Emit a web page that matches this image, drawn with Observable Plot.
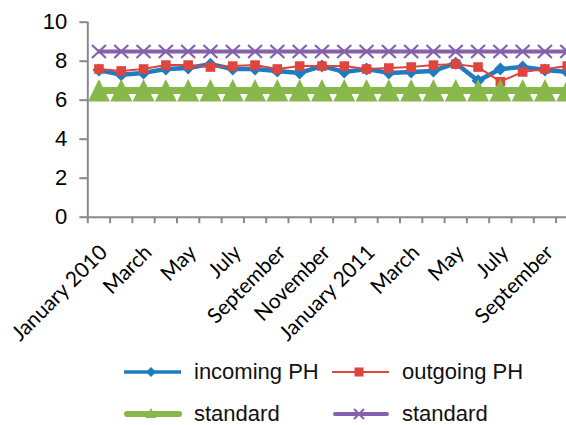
<!DOCTYPE html>
<html><head><meta charset="utf-8">
<script src="https://cdn.jsdelivr.net/npm/d3@7"></script>
<script src="https://cdn.jsdelivr.net/npm/@observablehq/plot@0.6"></script>
<style>
body{margin:0;background:#fff;}
#chart{width:566px;height:425px;position:relative;overflow:hidden;background:#fff;}
.legend{position:relative;height:80px;width:566px;font-family:"Liberation Sans",Arial,sans-serif;font-size:22px;color:#111;}
.legend svg{position:absolute;}
.legend span{position:absolute;line-height:24px;height:24px;white-space:nowrap;}
</style></head><body><div id="chart"></div>
<script>
// ---- data ----
const months = ["2010-01","2010-02","2010-03","2010-04","2010-05","2010-06","2010-07","2010-08","2010-09","2010-10","2010-11","2010-12",
                "2011-01","2011-02","2011-03","2011-04","2011-05","2011-06","2011-07","2011-08","2011-09","2011-10"];
const xTickLabels = ["January 2010","March","May","July","September","November","January 2011","March","May","July","September"];
const incomingPH = [7.55,7.3,7.4,7.6,7.65,7.85,7.6,7.6,7.5,7.4,7.75,7.45,7.6,7.4,7.45,7.5,7.9,7.0,7.6,7.7,7.55,7.45];
const outgoingPH = [7.6,7.5,7.6,7.8,7.8,7.7,7.75,7.8,7.6,7.75,7.75,7.75,7.6,7.65,7.7,7.8,7.85,7.7,6.95,7.45,7.6,7.75];
const standardLow = [6.5,6.5,6.5,6.5,6.5,6.5,6.5,6.5,6.5,6.5,6.5,6.5,6.5,6.5,6.5,6.5,6.5,6.5,6.5,6.5,6.5,6.5];
const standardHigh = [8.5,8.5,8.5,8.5,8.5,8.5,8.5,8.5,8.5,8.5,8.5,8.5,8.5,8.5,8.5,8.5,8.5,8.5,8.5,8.5,8.5,8.5];
const yTicks = [0,2,4,6,8,10];
const seriesNames = ["incoming PH","outgoing PH","standard","standard"];

// ---- style ----
const blue = "#1f7cc0", red = "#e0443e", green = "#88b84b", purple = "#8561ab", axisColor = "#888888";
const step = 22.3, x0 = 87.3;

const rows = months.map((m, i) => ({month: m, incoming: incomingPH[i], outgoing: outgoingPH[i], low: standardLow[i], high: standardHigh[i]}));
const labelRows = months.filter((m, i) => i % 2 === 0).map((m, i) => ({month: m, label: xTickLabels[i]}));

// fixed-size marker shapes (pixels)
const diamond = {draw(c){const r = 6.5; c.moveTo(0,-r); c.lineTo(r,0); c.lineTo(0,r); c.lineTo(-r,0); c.closePath();}};
const square = {draw(c){const r = 4.8; c.rect(-r,-r,2*r,2*r);}};
const triangle = {draw(c){c.moveTo(0,-11.5); c.lineTo(11,11); c.lineTo(-11,11); c.closePath();}};
const cross = {draw(c){const w = 7, h = 6.5; c.moveTo(-w,-h); c.lineTo(w,h); c.moveTo(w,-h); c.lineTo(-w,h);}};
const vtick = {draw(c){c.moveTo(0,0); c.lineTo(0,6);}};

const plot = Plot.plot({
  width: 566, height: 345,
  marginLeft: x0, marginRight: 0, marginTop: 21.7, marginBottom: 128.3,
  style: {fontFamily: "Liberation Sans, Arial, sans-serif", fontSize: "22px", background: "white", color: "black"},
  x: {type: "point", domain: months, range: [x0, x0 + months.length * step], padding: 0.5, round: false, axis: null, label: null},
  y: {domain: [0, 10], label: null},
  marks: [
    Plot.axisY({ticks: yTicks, tickSize: 8, tickPadding: 12.5, stroke: axisColor, strokeWidth: 2, fill: "#000", fontSize: 22, label: null}),
    Plot.ruleY([0], {stroke: axisColor, strokeWidth: 2}),
    Plot.ruleX([months[0]], {y1: 0, y2: 10, dx: -step / 2, stroke: axisColor, strokeWidth: 2}),
    Plot.dot(months, {x: d => d, y: 0, symbol: vtick, dx: -step / 2, stroke: axisColor, strokeWidth: 2, fill: "none"}),
    Plot.text(labelRows, {x: "month", y: 0, text: "label", rotate: -45, textAnchor: "end", lineAnchor: "top", dx: -1, dy: 26, fontFamily: "Lato, sans-serif", fontSize: 21, fill: "#000"}),
    Plot.line(rows, {x: "month", y: "incoming", stroke: blue, strokeWidth: 4.5}),
    Plot.dot(rows, {x: "month", y: "incoming", symbol: diamond, fill: blue, stroke: "none"}),
    Plot.line(rows, {x: "month", y: "outgoing", stroke: red, strokeWidth: 2}),
    Plot.dot(rows, {x: "month", y: "outgoing", symbol: square, fill: red, stroke: "none"}),
    Plot.line(rows, {x: "month", y: "low", stroke: green, strokeWidth: 7}),
    Plot.dot(rows, {x: "month", y: "low", symbol: triangle, fill: green, stroke: "none"}),
    Plot.line(rows, {x: "month", y: "high", stroke: purple, strokeWidth: 4}),
    Plot.dot(rows, {x: "month", y: "high", symbol: cross, fill: "none", stroke: purple, strokeWidth: 2.2})
  ]
});
const chart = document.getElementById("chart");
chart.appendChild(plot);

// ---- legend ----
const legend = document.createElement("div");
legend.className = "legend";
const mk = {
  diamond: (c) => `<path d="M30,10 L35,15 L30,20 L25,15 Z" fill="${c}"/>`,
  square: (c) => `<rect x="25.5" y="10.5" width="9" height="9" fill="${c}"/>`,
  triangle: (c) => `<path d="M30,9 L35.5,19 L24.5,19 Z" fill="${c}"/>`,
  cross: (c) => `<path d="M25,10 L35,20 M35,10 L25,20" stroke="${c}" stroke-width="2"/>`
};
const items = [
  {name: seriesNames[0], color: blue, w: 3.5, cap: "butt", m: "diamond", left: 121, cy: 27},
  {name: seriesNames[1], color: red, w: 2, cap: "butt", m: "square", left: 329, cy: 27},
  {name: seriesNames[2], color: green, w: 6, cap: "round", m: "triangle", left: 121, cy: 69},
  {name: seriesNames[3], color: purple, w: 4, cap: "round", m: "cross", left: 329, cy: 69}
];
for (const it of items) {
  const x1 = it.cap === "round" ? 6 : 3, x2 = it.cap === "round" ? 58 : 60;
  legend.insertAdjacentHTML("beforeend",
    `<svg width="63" height="30" style="left:${it.left}px;top:${it.cy - 15}px"><line x1="${x1}" x2="${x2}" y1="15" y2="15" stroke="${it.color}" stroke-width="${it.w}" stroke-linecap="${it.cap}"/>${mk[it.m](it.color)}</svg>` +
    `<span style="left:${it.left + 73}px;top:${it.cy - 12}px">${it.name}</span>`);
}
chart.appendChild(legend);
</script></body></html>
